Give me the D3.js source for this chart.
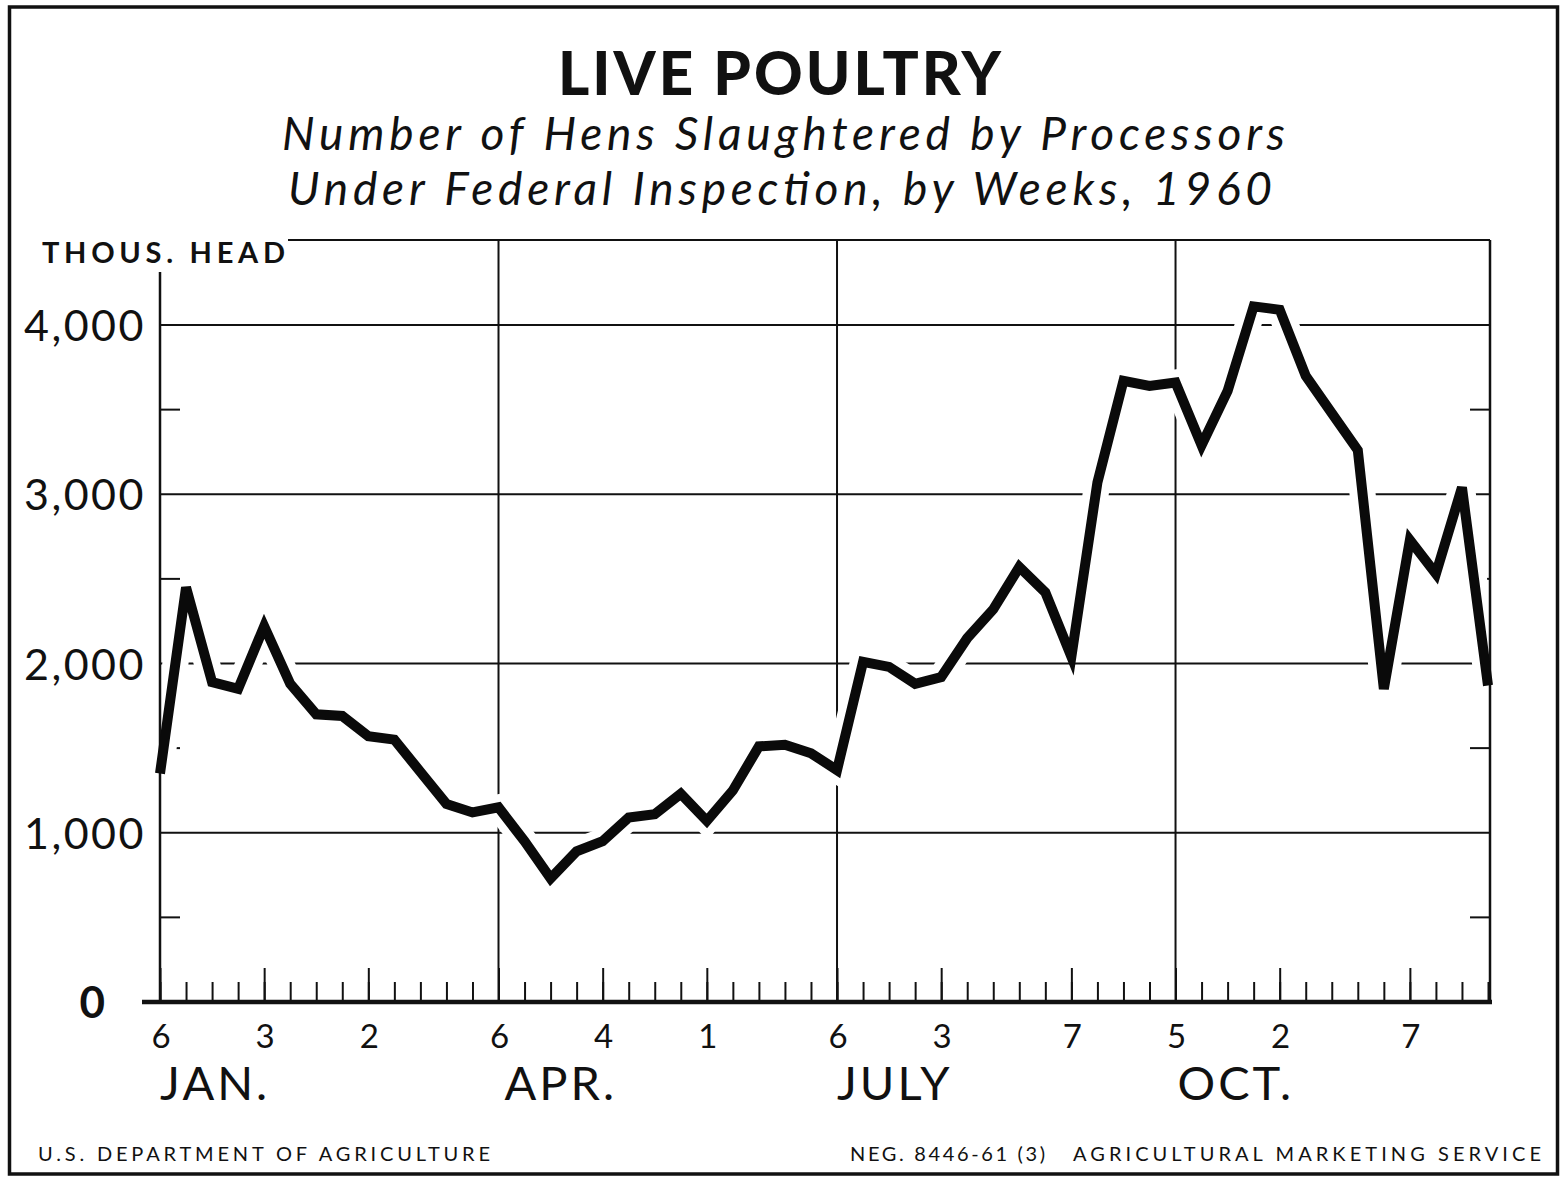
<!DOCTYPE html>
<html>
<head>
<meta charset="utf-8">
<script src="https://cdn.jsdelivr.net/npm/d3@7"></script>
<style>
  html, body { margin: 0; padding: 0; background: #fff; }
  svg { display: block; }
  text { fill: #111; }
</style>
</head>
<body>
<svg id="chart" width="1561" height="1177"></svg>
<script>
// ---- DATA (thousand head, weekly 1960, weeks ending Wednesdays from Jan 6) ----
const weekValues = [1350, 2450, 1890, 1850, 2220, 1880, 1700, 1690, 1570, 1550,
                    1360, 1170, 1120, 1150, 950, 730, 890, 950, 1090, 1110,
                    1230, 1070, 1250, 1510, 1520, 1470, 1370, 2010, 1980, 1880,
                    1920, 2150, 2320, 2570, 2420, 2040, 3070, 3670, 3640, 3660,
                    3290, 3610, 4110, 4090, 3700, 3480, 3260, 1850, 2730, 2530,
                    3040, 1870];
const yGridValues = [1000, 2000, 3000, 4000];
const yMinorValues = [500, 1500, 2500, 3500];
const yTickValues = [0, 1000, 2000, 3000, 4000];
const yTickLabels = ["0", "1,000", "2,000", "3,000", "4,000"];
const quarterMonths = [0, 3, 6, 9];
const quarterLabels = ["JAN.", "APR.", "JULY", "OCT."];
const titleText = "LIVE POULTRY";
const subtitle1 = "Number of Hens Slaughtered by Processors";
const subtitle2 = "Under Federal Inspection, by Weeks, 1960";
const unitLabel = "THOUS. HEAD";
const footerLeft = "U.S. DEPARTMENT OF AGRICULTURE";
const footerNeg = "NEG. 8446-61 (3)";
const footerRight = "AGRICULTURAL MARKETING SERVICE";

(function () {
// categories: the 52 weekly dates
const weeks = d3.utcWednesday.range(new Date(Date.UTC(1960, 0, 6)), new Date(Date.UTC(1960, 11, 29)));
const data = weeks.map((d, i) => ({ date: d, value: weekValues[i] }));

const svg = d3.select("#chart");
const FONT = "Lato, 'Open Sans', 'DejaVu Sans', sans-serif";

const pLeft = 160, pRight = 1490, pBottom = 1002, pTop = 240;
const x = d3.scaleUtc().domain([weeks[0], weeks[weeks.length - 1]]).range([160, 1488]);
const y = d3.scaleLinear().domain([0, 4000]).range([pBottom, 325]);

svg.append("rect").attr("width", 1561).attr("height", 1177).attr("fill", "#fff");

// outer frame
svg.append("rect").attr("x", 9.5).attr("y", 7).attr("width", 1548).attr("height", 1167)
  .attr("fill", "none").attr("stroke", "#111").attr("stroke-width", 3.5);

const ink = "#111";

// horizontal gridlines
svg.append("g").selectAll("line").data(yGridValues).join("line")
  .attr("x1", pLeft).attr("x2", pRight)
  .attr("y1", d => y(d)).attr("y2", d => y(d))
  .attr("stroke", ink).attr("stroke-width", 2);

// minor ticks on both sides
const minor = svg.append("g");
minor.selectAll("line.l").data(yMinorValues).join("line").attr("class", "l")
  .attr("x1", pLeft).attr("x2", pLeft + 20)
  .attr("y1", d => y(d)).attr("y2", d => y(d))
  .attr("stroke", ink).attr("stroke-width", 2);
minor.selectAll("line.r").data(yMinorValues).join("line").attr("class", "r")
  .attr("x1", pRight - 20).attr("x2", pRight)
  .attr("y1", d => y(d)).attr("y2", d => y(d))
  .attr("stroke", ink).attr("stroke-width", 2);

// quarter vertical lines
const quarterDates = quarterMonths.map(m => weeks.find(w => w.getUTCMonth() === m));
svg.append("g").selectAll("line").data(quarterDates.slice(1)).join("line")
  .attr("x1", d => x(d)).attr("x2", d => x(d))
  .attr("y1", pTop).attr("y2", pBottom)
  .attr("stroke", ink).attr("stroke-width", 2);

// top border
svg.append("line").attr("x1", 288).attr("x2", pRight).attr("y1", pTop).attr("y2", pTop)
  .attr("stroke", ink).attr("stroke-width", 2);

const lineGen = d3.line().x(d => x(d.date)).y(d => y(d.value));

// white halo under the data line
svg.append("path").datum(data).attr("d", lineGen)
  .attr("fill", "none").attr("stroke", "#fff").attr("stroke-width", 26)
  .attr("stroke-linejoin", "miter").attr("stroke-miterlimit", 3);

// left axis and right border
svg.append("line").attr("x1", pLeft).attr("x2", pLeft).attr("y1", 272).attr("y2", pBottom)
  .attr("stroke", ink).attr("stroke-width", 2.5);
svg.append("line").attr("x1", pRight).attr("x2", pRight).attr("y1", pTop).attr("y2", pBottom)
  .attr("stroke", ink).attr("stroke-width", 2.5);

// bottom axis with week ticks
const monthFirsts = weeks.filter(w => w.getUTCDate() <= 7);
const axWeeks = svg.append("g").attr("transform", `translate(0,${pBottom})`)
  .call(d3.axisTop(x).tickValues(weeks).tickSize(20).tickFormat("").tickSizeOuter(0));
const axMonths = svg.append("g").attr("transform", `translate(0,${pBottom})`)
  .call(d3.axisTop(x).tickValues(monthFirsts).tickSize(34).tickFormat("").tickSizeOuter(0));
[axWeeks, axMonths].forEach(g => {
  g.select(".domain").remove();
  g.selectAll(".tick line").attr("stroke", ink).attr("stroke-width", 2);
});
svg.append("line").attr("x1", 142).attr("x2", 1492).attr("y1", pBottom).attr("y2", pBottom)
  .attr("stroke", ink).attr("stroke-width", 4.5);

// data line
svg.append("path").datum(data).attr("d", lineGen)
  .attr("fill", "none").attr("stroke", "#0a0a0a").attr("stroke-width", 10)
  .attr("stroke-linejoin", "miter").attr("stroke-miterlimit", 4);

// week day labels
svg.append("g").selectAll("text").data(monthFirsts).join("text")
  .attr("x", d => x(d) + 1).attr("y", 1048)
  .attr("text-anchor", "middle")
  .attr("font-family", FONT).attr("font-size", 33)
  .text(d => d3.utcFormat("%-d")(d));

// quarter month labels
svg.append("g").selectAll("text").data(quarterDates).join("text")
  .attr("x", (d, i) => x(d) + [0, 6, 0, 2][i]).attr("y", 1100)
  .attr("font-family", FONT).attr("font-size", 47).attr("letter-spacing", 3)
  .text((d, i) => quarterLabels[i]);

// y labels
svg.append("g").selectAll("text").data(yTickValues).join("text")
  .attr("x", d => d === 0 ? 105 : 146)
  .attr("y", d => y(d) + 16)
  .attr("text-anchor", "end")
  .attr("font-family", FONT)
  .attr("font-size", d => d === 0 ? 44 : 43)
  .attr("font-weight", d => d === 0 ? 700 : 400)
  .attr("letter-spacing", d => d === 0 ? 0 : 2.5)
  .text((d, i) => yTickLabels[i]);

// unit label
svg.append("text").attr("x", 42).attr("y", 263)
  .attr("font-family", FONT).attr("font-size", 29).attr("font-weight", 700)
  .attr("textLength", 243).attr("lengthAdjust", "spacing")
  .text(unitLabel);

// titles
svg.append("text").attr("x", 558).attr("y", 95)
  .attr("font-family", FONT).attr("font-size", 60).attr("font-weight", 900)
  .attr("textLength", 443).attr("lengthAdjust", "spacing")
  .text(titleText);
svg.append("text").attr("x", 282).attr("y", 150)
  .attr("font-family", FONT).attr("font-size", 46).attr("font-style", "italic")
  .attr("textLength", 1003).attr("lengthAdjust", "spacing")
  .text(subtitle1);
svg.append("text").attr("x", 288).attr("y", 205)
  .attr("font-family", FONT).attr("font-size", 46).attr("font-style", "italic")
  .attr("textLength", 984).attr("lengthAdjust", "spacing")
  .text(subtitle2);

// footer
const foot = svg.append("g").attr("font-family", FONT).attr("font-size", 20);
foot.append("text").attr("x", 38).attr("y", 1161)
  .attr("textLength", 452).attr("lengthAdjust", "spacing").text(footerLeft);
foot.append("text").attr("x", 850).attr("y", 1161)
  .attr("textLength", 195).attr("lengthAdjust", "spacing").text(footerNeg);
foot.append("text").attr("x", 1073).attr("y", 1161)
  .attr("textLength", 468).attr("lengthAdjust", "spacing").text(footerRight);
})();
</script>
</body>
</html>
